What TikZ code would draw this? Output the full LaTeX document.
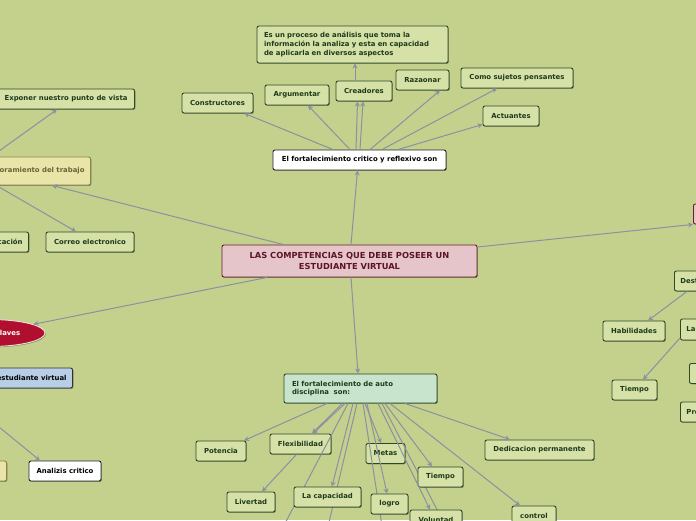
\documentclass[tikz,border=0pt]{standalone}
\usepackage{fontspec}
\setmainfont{DejaVu Sans}
\usetikzlibrary{arrows.meta,positioning,shapes.geometric,shadows}

\definecolor{mapbg}{HTML}{C3D18C}
\definecolor{subfill}{HTML}{D6E1A8}
\definecolor{subdraw}{HTML}{2D4A25}
\definecolor{subtext}{HTML}{1E3A1A}
\definecolor{rootfill}{HTML}{E6C5CA}
\definecolor{rootdraw}{HTML}{6B1E2E}
\definecolor{roottext}{HTML}{5C1426}
\definecolor{mintfill}{HTML}{C9E4CC}
\definecolor{yelfill}{HTML}{E9E5A8}
\definecolor{yeldraw}{HTML}{8A8452}
\definecolor{yeltext}{HTML}{6A6234}
\definecolor{bluefill}{HTML}{B8CDE6}
\definecolor{crimson}{HTML}{B0102E}
\definecolor{linkgray}{HTML}{8D8FA3}

\begin{document}
\begin{tikzpicture}[x=1pt, y=-1pt, font=\fontsize{6.9}{8.8}\selectfont\bfseries,
  shade/.style={drop shadow={shadow xshift=0.8pt, shadow yshift=-0.9pt, opacity=0.35, fill=black}},
  topic/.style={draw=subdraw, fill=subfill, text=subtext, rounded corners=2pt, line width=0.9pt,
    minimum height=20, inner xsep=6, inner ysep=2, shade},
  whitebox/.style={topic, fill=white, draw=black!85, text=black},
  mintbox/.style={topic, fill=mintfill, align=left, text width=137, inner xsep=8},
  yelbox/.style={topic, fill=yelfill, draw=yeldraw, text=yeltext},
  bluebox/.style={topic, fill=bluefill, draw=black!80, text=black},
  rootbox/.style={topic, fill=rootfill, draw=rootdraw, text=roottext, align=center},
  clavesell/.style={ellipse, draw=white!85!crimson, line width=0.9pt, fill=crimson, text=white, shade},
  link/.style={draw=linkgray, line width=1pt, -{Stealth[length=5pt, width=5pt]}},
  plain/.style={draw=linkgray, line width=1pt}]

  \useasboundingbox (0,0) rectangle (696,520);
  \clip (0,0) rectangle (696,520);
  \fill[mapbg] (0,0) rectangle (696,520);

  % centre and the critical thinking branch
  \node[rootbox, minimum width=255, minimum height=32, font=\fontsize{8.3}{10.5}\selectfont\bfseries] (central) at (349.5,261)
    {LAS COMPETENCIAS QUE DEBE POSEER UN\\ ESTUDIANTE VIRTUAL};
  \node[whitebox, minimum width=173] (critico) at (359.5,160) {El fortalecimiento critico y reflexivo son};
  \node[topic, align=left, text width=177, inner xsep=7, minimum height=37] (proceso) at (352.5,44.5)
    {Es un proceso de análisis que toma la\\ información la analiza y esta en capacidad\\ de aplicarla en diversos aspectos};
  \node[topic, minimum width=71] (constructores) at (217.5,103) {Constructores};
  \node[topic, minimum width=64] (argumentar) at (297,95) {Argumentar};
  \node[topic, minimum width=56] (creadores) at (364,91) {Creadores};
  \node[topic, minimum width=53] (razaonar) at (422.5,80) {Razaonar};
  \node[topic, minimum width=112] (pensantes) at (517,78) {Como sujetos pensantes};
  \node[topic, minimum width=56] (actuantes) at (511,116) {Actuantes};

  % left side
  \node[yelbox, anchor=east, minimum height=28] (mejora) at (91,171) {Mejoramiento del trabajo};
  \node[topic, anchor=east, minimum width=137] (exponer) at (135,99) {Exponer nuestro punto de vista};
  \node[topic, anchor=east] (comunica) at (29,242) {Comunicación};
  \node[topic, minimum width=88] (correo) at (90,242) {Correo electronico};
  \node[clavesell, minimum width=110, minimum height=27] (claves) at (-10,333) {Palabras claves};
  \node[bluebox, anchor=east] (perfil) at (73,378) {Perfil del estudiante virtual};
  \node[yelbox, anchor=east, minimum width=40] (yelleft) at (7,471) {};
  \node[whitebox, minimum width=72] (analizis) at (65,471) {Analizis critico};
  \coordinate (offleft) at (-40,395);

  % right side
  \node[rootbox, anchor=west, minimum width=80] (rnode) at (693,214) {};
  \node[topic, anchor=west] (des) at (674,281) {Destrezas};
  \node[topic, minimum width=62] (habil) at (634,331) {Habilidades};
  \node[topic, anchor=west, minimum height=21] (la) at (680,329.5) {La organización};
  \node[topic, minimum width=45] (tiempob) at (634.5,390) {Tiempo};
  \node[topic, anchor=west, minimum width=40] (rtres) at (689,373.5) {};
  \node[topic, anchor=west] (pr) at (680,412) {Proactividad};

  % self discipline branch
  \node[mintbox, minimum height=29] (auto) at (360.5,388.5) {El fortalecimiento de auto\\ disciplina\ \ son:};
  \node[topic, minimum width=50] (potencia) at (221,451) {Potencia};
  \node[topic, minimum width=61] (flexib) at (300.5,444) {Flexibilidad};
  \node[topic, minimum width=39] (metas) at (385.5,453.5) {Metas};
  \node[topic, minimum width=109] (dedica) at (539.5,450) {Dedicacion permanente};
  \coordinate (offa) at (270,552);
  \coordinate (offb) at (386,552);
  \coordinate (offc) at (459,552);
  \coordinate (offd) at (322,552);

  % links drawn under the lower nodes
  \draw[plain] ([xshift=-12.5]auto.south) -- (offa);
  \draw[plain] ([xshift=-3.5]auto.south) -- (offd);
  \draw[plain] ([xshift=2.5]auto.south) -- (offb);
  \draw[plain] ([xshift=21.5]auto.south) -- (offc);

  \node[topic, minimum width=45] (tiempoa) at (440.5,477) {Tiempo};
  \node[topic, minimum width=44] (control) at (534,516) {control};
  \node[topic, minimum width=48] (livertad) at (251,502) {Livertad};
  \node[topic, minimum width=67] (capacidad) at (327.5,497) {La capacidad};
  \node[topic, minimum width=37] (logro) at (389.5,504) {logro};
  \node[topic, minimum width=52] (voluntad) at (436,520) {Voluntad};

  \draw[link] ([xshift=1.5]central.north) -- ([xshift=-2]critico.south);
  \draw[link] ([xshift=-66]central.north) -- ([xshift=-39]mejora.south east);
  \draw[link] ([xshift=-82.5]central.south) -- (claves);
  \draw[link] ([yshift=14]central.east) -- (rnode.south west);
  \draw[link] ([xshift=1.5]central.south) -- ([xshift=-2.5]auto.north);

  \draw[link] ([xshift=-26.5]critico.north) -- ([xshift=27]constructores.south);
  \draw[link] ([xshift=-9.5]critico.north) -- ([xshift=11]argumentar.south);
  \draw[link] ([xshift=-3.5]critico.north) -- ([xshift=-6.5]creadores.south);
  \draw[link] ([xshift=0.5]critico.north) -- ([xshift=-1]creadores.south);
  \draw[link] ([xshift=-9]creadores.north) -- ([xshift=2.5]proceso.south);
  \draw[link] ([xshift=10.5]critico.north) -- ([xshift=-9.5]razaonar.south east);
  \draw[link] ([xshift=22.5]critico.north) -- ([xshift=-20]pensantes.south);
  \draw[link] ([xshift=38.5]critico.north) -- ([yshift=2]actuantes.south west);

  \draw[link] ([xshift=12]mejora.north west) -- ([xshift=-78]exponer.south east);
  \draw[link] ([xshift=17]mejora.south west) -- ([xshift=-14]correo.north);
  \draw[link] (offleft) -- ([xshift=-25]analizis.north);

  \draw[link] ([xshift=13]des.south west) -- ([xshift=14]habil.north);
  \draw[link] ([yshift=-8.5]la.west) -- ([xshift=8.5]tiempob.north);

  \draw[link] ([xshift=-33.5]auto.south) -- ([xshift=23]potencia.north);
  \draw[link] ([xshift=-15.5]auto.south) -- ([xshift=12.5]flexib.north);
  \draw[link] ([xshift=-18]auto.south) -- ([xshift=11.5]flexib.north);
  \draw[link] ([xshift=-4]flexib.south) -- ([xshift=11]livertad.north);
  \draw[link] ([xshift=-7.5]auto.south) -- ([xshift=4.5]capacidad.north);
  \draw[link] ([xshift=4.5]auto.south) -- ([xshift=-4.5]metas.north);
  \draw[link] ([xshift=6.5]auto.south) -- ([xshift=-2.5]logro.north);
  \draw[link] ([xshift=17.5]auto.south) -- ([xshift=-6]voluntad.north);
  \draw[link] ([xshift=24.5]auto.south) -- ([xshift=-8.5]tiempoa.north);
  \draw[link] ([xshift=29.5]auto.south) -- ([xshift=-14]control.north);
  \draw[link] ([xshift=44.5]auto.south) -- ([xshift=-29.5]dedica.north);
\end{tikzpicture}
\end{document}
